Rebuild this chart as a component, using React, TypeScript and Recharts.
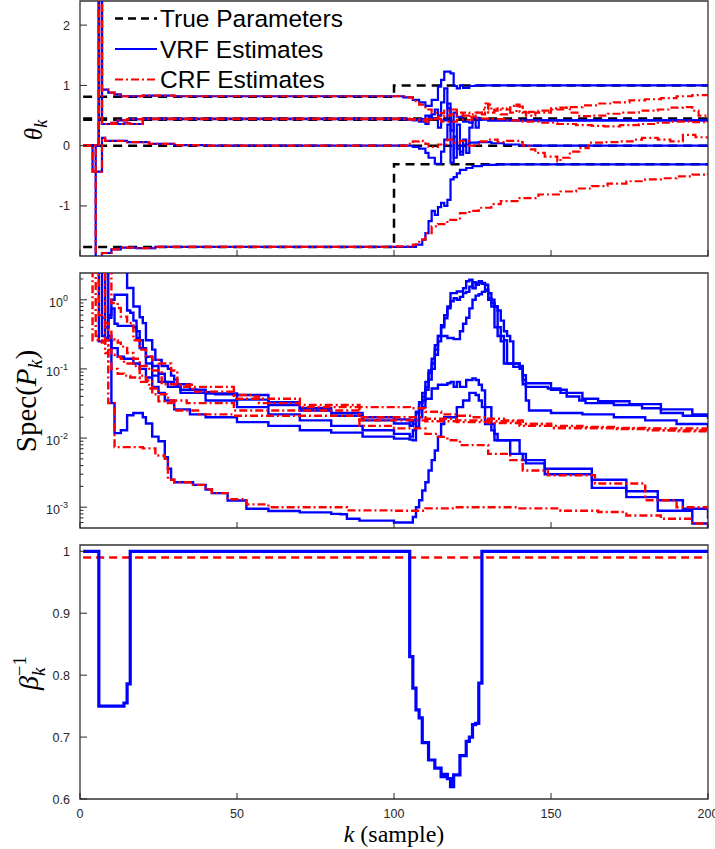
import React from 'react';
import { LineChart, Line, XAxis, YAxis, Legend, ReferenceArea } from 'recharts';

type Pt = [number, number];
type Row = { k: number; v: number };
const rows = (pts: Pt[]): Row[] => pts.map(([k, v]) => ({ k, v }));

// ---------- axis ticks ----------
const kTicks = [0, 50, 100, 150, 200];
const thetaTicks = [-1, 0, 1, 2];
const specTicks = [
  0.0006, 0.0007, 0.0008, 0.0009, 0.001, 0.002, 0.003, 0.004, 0.005, 0.006, 0.007, 0.008, 0.009,
  0.01, 0.02, 0.03, 0.04, 0.05, 0.06, 0.07, 0.08, 0.09, 0.1, 0.2, 0.3, 0.4, 0.5, 0.6, 0.7, 0.8, 0.9, 1, 2,
];
const specMajorTicks = [0.001, 0.01, 0.1, 1];
const specExponents = ['-3', '-2', '-1', '0'];
const betaTicks = [0.6, 0.7, 0.8, 0.9, 1];
const betaTickLabels = ['0.6', '0.7', '0.8', '0.9', '1'];

// ---------- panel 1: parameters ----------
const trueTheta1: Pt[] = [[1, 0.81], [100, 1.0], [200, 1.0]];
const trueTheta2: Pt[] = [[1, 0.45], [200, 0.45]];
const trueTheta3: Pt[] = [[1, 0.43], [200, 0.43]];
const trueTheta4: Pt[] = [[1, 0], [200, 0]];
const trueTheta5: Pt[] = [[1, -1.68], [100, -0.31], [200, -0.31]];

const thetaEarly1: Pt[] = [[1, 0], [6, 5], [7, 0.93], [9, 0.88], [11, 0.85], [13, 0.82], [20, 0.83], [30, 0.82], [95, 0.82]];
const thetaEarly2: Pt[] = [[1, 0], [6, 5], [7, 0.36], [10, 0.38], [12, 0.42], [15, 0.44], [20, 0.45], [95, 0.45]];
const thetaEarly3: Pt[] = [[1, 0], [6, 5], [7, 0.36], [14, 0.37], [16, 0.36], [20, 0.44], [95, 0.44]];
const thetaEarly4: Pt[] = [[1, 0], [4, -0.43], [7, 0.13], [8, 0.08], [15, 0.06], [22, 0.03], [30, 0.01], [40, 0], [95, 0]];
const thetaEarly5: Pt[] = [[1, 0], [5, -5], [7, -1.78], [10, -1.72], [13, -1.69], [18, -1.7], [24, -1.68], [95, -1.68]];

const vrfThetaLate1: Pt[] = [[103, 0.8], [106, 0.76], [108, 0.72], [110, 0.66], [112, 0.76], [114, 0.98], [115, 1.09], [116, 1.23], [118, 1.2], [119, 0.99], [120, 0.95], [121, 1.0], [122, 0.96], [124, 0.99], [126, 1.0], [200, 1.0]];
const vrfThetaLate2: Pt[] = [[104, 0.44], [106, 0.42], [108, 0.4], [110, 0.36], [111, 0.48], [112, 0.52], [113, 0.6], [114, 0.5], [115, 0.72], [116, 0.95], [117, 0.62], [118, 0.25], [119, 0.55], [120, 0.48], [122, 0.4], [124, 0.38], [125, 0.46], [127, 0.43], [130, 0.42], [200, 0.42]];
const vrfThetaLate3: Pt[] = [[104, 0.43], [108, 0.44], [110, 0.5], [112, 0.45], [114, 0.3], [115, 0.42], [117, 0.7], [118, 0.4], [119, -0.2], [120, 0.35], [121, -0.1], [122, 0.1], [123, -0.12], [124, 0.3], [125, 0.46], [126, 0.3], [127, 0.44], [130, 0.42], [200, 0.42]];
const vrfThetaLate4: Pt[] = [[106, -0.02], [108, -0.05], [110, -0.12], [111, -0.2], [113, -0.3], [115, -0.1], [116, 0.1], [117, 0.35], [118, -0.28], [119, 0.15], [120, -0.05], [121, -0.15], [122, 0.02], [124, 0.05], [127, 0.06], [131, 0.04], [135, 0.02], [140, 0], [200, 0]];
const vrfThetaLate5: Pt[] = [[105, -1.68], [107, -1.64], [109, -1.56], [110, -1.45], [111, -1.25], [112, -1.08], [113, -1.15], [114, -1.02], [115, -0.95], [116, -1.0], [117, -0.9], [118, -0.56], [119, -0.52], [120, -0.46], [121, -0.4], [123, -0.37], [125, -0.34], [128, -0.32], [133, -0.31], [200, -0.31]];

const crfThetaLate1: Pt[] = [[104, 0.8], [106, 0.74], [108, 0.68], [110, 0.6], [112, 0.55], [114, 0.54], [116, 0.58], [118, 0.6], [120, 0.55], [122, 0.5], [124, 0.52], [126, 0.55], [128, 0.6], [130, 0.68], [131, 0.58], [133, 0.62], [135, 0.6], [137, 0.66], [139, 0.65], [141, 0.55], [143, 0.56], [146, 0.58], [150, 0.6], [155, 0.64], [160, 0.67], [165, 0.7], [170, 0.72], [175, 0.75], [180, 0.77], [185, 0.79], [190, 0.82], [195, 0.84], [200, 0.86]];
const crfThetaLate2: Pt[] = [[105, 0.44], [108, 0.42], [110, 0.4], [112, 0.45], [114, 0.48], [116, 0.5], [118, 0.52], [120, 0.5], [122, 0.55], [124, 0.48], [126, 0.55], [128, 0.52], [129, 0.7], [130, 0.55], [132, 0.6], [134, 0.52], [136, 0.62], [137, 0.55], [139, 0.68], [140, 0.56], [142, 0.5], [145, 0.55], [150, 0.62], [153, 0.63], [156, 0.55], [159, 0.49], [163, 0.5], [168, 0.53], [173, 0.55], [178, 0.58], [184, 0.6], [188, 0.63], [192, 0.64], [195, 0.58], [197, 0.5], [200, 0.46]];
const crfThetaLate3: Pt[] = [[105, 0.43], [110, 0.44], [115, 0.4], [120, 0.43], [125, 0.45], [130, 0.44], [135, 0.42], [141, 0.4], [146, 0.38], [152, 0.36], [158, 0.34], [163, 0.33], [167, 0.32], [172, 0.34], [178, 0.36], [184, 0.38], [188, 0.4], [194, 0.39], [200, 0.38]];
const crfThetaLate4: Pt[] = [[104, 0.03], [106, 0.07], [108, 0.08], [110, 0.03], [111, -0.02], [114, 0.02], [117, 0.1], [119, 0.05], [121, 0.08], [124, 0.0], [127, 0.07], [130, 0.1], [133, 0.06], [136, 0.08], [140, 0.06], [141, 0], [143, -0.06], [145, -0.12], [148, -0.18], [152, -0.26], [153, -0.2], [156, -0.1], [159, -0.04], [162, 0.05], [167, 0.06], [172, 0.07], [176, 0.1], [179, 0.13], [184, 0.1], [188, 0.07], [192, 0.18], [196, 0.14], [200, 0.11]];
const crfThetaLate5: Pt[] = [[100, -1.67], [106, -1.64], [108, -1.56], [110, -1.45], [112, -1.34], [114, -1.3], [117, -1.23], [121, -1.12], [124, -1.08], [127, -1.03], [131, -0.97], [134, -0.92], [140, -0.87], [146, -0.81], [153, -0.76], [158, -0.71], [163, -0.67], [168, -0.63], [174, -0.59], [180, -0.56], [185, -0.54], [190, -0.51], [195, -0.48], [200, -0.45]];

// ---------- panel 2: Spec(P_k) ----------
const vrfSpec1: Pt[] = [[1, 10], [15, 1.48], [17, 0.8], [19, 0.56], [20, 0.46], [21, 0.26], [23, 0.19], [24, 0.135], [26, 0.11], [28, 0.1], [29, 0.08], [30, 0.07], [31, 0.055], [32, 0.05], [37, 0.049], [40, 0.046], [43, 0.043], [50, 0.042], [60, 0.033], [70, 0.027], [80, 0.023], [90, 0.02], [100, 0.0186], [105, 0.0175], [106, 0.016], [107, 0.023], [108, 0.032], [109, 0.04], [110, 0.055], [111, 0.087], [112, 0.12], [113, 0.19], [114, 0.3], [115, 0.43], [116, 0.54], [117, 0.8], [118, 1.25], [120, 1.32], [122, 1.47], [123, 1.85], [124, 1.95], [125, 1.47], [126, 1.65], [127, 1.75], [129, 1.65], [130, 1.25], [131, 1.0], [132, 0.8], [133, 0.4], [134, 0.3], [135, 0.26], [136, 0.12], [138, 0.107], [141, 0.081], [142, 0.055], [149, 0.052], [153, 0.045], [155, 0.04], [159, 0.035], [161, 0.032], [170, 0.03], [179, 0.027], [185, 0.023], [192, 0.021], [200, 0.019]];
const vrfSpec2: Pt[] = [[1, 10], [8, 0.4], [9, 0.6], [10, 1.0], [11, 1.18], [14, 1.18], [15, 0.7], [16, 0.65], [17, 0.5], [18, 0.35], [19, 0.26], [20, 0.2], [21, 0.15], [23, 0.11], [25, 0.085], [27, 0.065], [30, 0.06], [35, 0.05], [40, 0.044], [50, 0.036], [60, 0.03], [70, 0.025], [80, 0.021], [90, 0.018], [100, 0.0162], [105, 0.015], [106, 0.018], [107, 0.024], [108, 0.033], [109, 0.045], [110, 0.065], [111, 0.095], [112, 0.14], [113, 0.22], [114, 0.3], [117, 0.28], [119, 0.27], [121, 0.35], [122, 0.45], [123, 0.55], [124, 0.75], [125, 1.0], [126, 1.15], [127, 1.2], [128, 1.3], [129, 1.35], [130, 1.0], [131, 0.8], [132, 0.4], [133, 0.3], [134, 0.25], [135, 0.12], [140, 0.11], [141, 0.07], [142, 0.062], [150, 0.05], [155, 0.045], [160, 0.037], [165, 0.034], [175, 0.031], [185, 0.026], [195, 0.022], [200, 0.02]];
const vrfSpec3: Pt[] = [[1, 10], [7, 0.3], [8, 0.4], [9, 0.55], [10, 0.75], [11, 0.45], [12, 0.42], [15, 0.42], [17, 0.4], [18, 0.28], [19, 0.2], [21, 0.12], [23, 0.08], [25, 0.065], [28, 0.055], [32, 0.045], [40, 0.035], [50, 0.028], [60, 0.022], [70, 0.018], [80, 0.015], [90, 0.013], [100, 0.0115], [105, 0.0105], [106, 0.013], [107, 0.018], [108, 0.026], [109, 0.035], [110, 0.05], [111, 0.07], [112, 0.1], [113, 0.16], [114, 0.25], [115, 0.4], [116, 0.6], [117, 0.75], [118, 0.95], [119, 1.05], [120, 1.0], [121, 1.1], [122, 1.25], [123, 1.3], [124, 1.55], [125, 1.8], [126, 1.75], [127, 1.85], [128, 1.7], [129, 1.4], [130, 1.05], [131, 0.9], [132, 0.8], [133, 0.7], [134, 0.5], [135, 0.35], [136, 0.3], [137, 0.25], [138, 0.12], [140, 0.1], [141, 0.06], [142, 0.035], [143, 0.025], [150, 0.023], [160, 0.022], [170, 0.02], [180, 0.018], [190, 0.016], [200, 0.014]];
const vrfSpec4: Pt[] = [[1, 10], [6, 0.25], [8, 0.28], [9, 0.3], [10, 0.2], [12, 0.15], [14, 0.14], [17, 0.12], [19, 0.1], [21, 0.075], [23, 0.055], [25, 0.045], [27, 0.035], [30, 0.026], [35, 0.022], [40, 0.02], [50, 0.017], [60, 0.015], [70, 0.013], [80, 0.012], [90, 0.0105], [100, 0.0098], [105, 0.0095], [106, 0.0093], [107, 0.0145], [108, 0.02], [109, 0.028], [110, 0.037], [112, 0.052], [114, 0.059], [117, 0.062], [118, 0.065], [119, 0.055], [120, 0.065], [121, 0.055], [123, 0.069], [125, 0.073], [126, 0.069], [127, 0.059], [128, 0.049], [129, 0.028], [131, 0.016], [132, 0.0115], [133, 0.0093], [140, 0.0059], [141, 0.0048], [148, 0.0036], [163, 0.0025], [174, 0.0017], [184, 0.00126], [192, 0.00095], [200, 0.00068]];
const vrfSpec5: Pt[] = [[1, 10], [9, 0.26], [10, 0.032], [11, 0.0118], [13, 0.013], [15, 0.0214], [17, 0.023], [20, 0.02], [21, 0.0162], [23, 0.0105], [25, 0.009], [27, 0.0053], [28, 0.0036], [29, 0.0025], [30, 0.0023], [36, 0.0021], [40, 0.0018], [42, 0.0016], [47, 0.00125], [53, 0.00095], [60, 0.00088], [70, 0.00084], [80, 0.0008], [83, 0.00079], [85, 0.00068], [89, 0.00064], [100, 0.0006], [105, 0.0006], [106, 0.00072], [107, 0.001], [108, 0.00126], [109, 0.00174], [110, 0.0023], [111, 0.0034], [112, 0.0048], [113, 0.0066], [114, 0.0105], [115, 0.016], [116, 0.02], [119, 0.02], [120, 0.028], [122, 0.035], [124, 0.045], [126, 0.042], [127, 0.035], [128, 0.028], [129, 0.016], [131, 0.0129], [132, 0.0093], [137, 0.0059], [142, 0.0043], [148, 0.003], [163, 0.0019], [174, 0.0014], [184, 0.00089], [195, 0.00058], [200, 0.0005]];

const crfSpec1: Pt[] = [[1, 10], [9, 10], [10, 0.9], [12, 0.76], [13, 0.57], [15, 0.46], [17, 0.26], [19, 0.19], [21, 0.15], [23, 0.135], [25, 0.12], [29, 0.095], [31, 0.059], [36, 0.047], [49, 0.042], [55, 0.04], [57, 0.032], [70, 0.03], [89, 0.028], [100, 0.028], [105, 0.027], [110, 0.024], [115, 0.022], [120, 0.021], [125, 0.02], [130, 0.019], [135, 0.018], [141, 0.016], [150, 0.015], [160, 0.0145], [170, 0.014], [180, 0.013], [190, 0.0125], [200, 0.0117]];
const crfSpec2: Pt[] = [[1, 10], [6, 0.6], [7, 0.55], [8, 0.46], [9, 0.37], [10, 0.28], [11, 0.26], [12, 0.24], [13, 0.21], [15, 0.17], [17, 0.14], [19, 0.11], [22, 0.095], [26, 0.06], [32, 0.055], [49, 0.037], [70, 0.028], [89, 0.02], [100, 0.02], [110, 0.019], [120, 0.018], [130, 0.0175], [140, 0.016], [150, 0.014], [170, 0.0135], [185, 0.013], [200, 0.012]];
const crfSpec3: Pt[] = [[1, 10], [4, 0.26], [7, 0.25], [8, 0.22], [9, 0.19], [10, 0.16], [11, 0.15], [13, 0.14], [14, 0.12], [17, 0.11], [19, 0.08], [21, 0.068], [23, 0.043], [28, 0.035], [34, 0.032], [49, 0.025], [89, 0.018], [100, 0.018], [110, 0.0175], [120, 0.017], [130, 0.0165], [140, 0.015], [150, 0.014], [170, 0.0138], [200, 0.013]];
const crfSpec4: Pt[] = [[1, 10], [5, 0.3], [6, 0.26], [7, 0.24], [8, 0.17], [9, 0.12], [10, 0.1], [12, 0.085], [14, 0.08], [16, 0.075], [19, 0.065], [22, 0.052], [25, 0.034], [28, 0.032], [30, 0.025], [38, 0.022], [49, 0.021], [89, 0.015], [100, 0.0138], [110, 0.0115], [114, 0.0104], [117, 0.0093], [121, 0.0079], [130, 0.0059], [137, 0.0048], [141, 0.0034], [149, 0.0029], [164, 0.0022], [180, 0.00126], [190, 0.001], [200, 0.00076]];
const crfSpec5: Pt[] = [[1, 10], [8, 0.26], [9, 0.032], [11, 0.0074], [20, 0.0071], [24, 0.0056], [27, 0.005], [28, 0.0025], [30, 0.0023], [36, 0.0021], [40, 0.0018], [42, 0.0016], [47, 0.0013], [53, 0.0011], [60, 0.001], [83, 0.001], [85, 0.0009], [100, 0.00089], [110, 0.00096], [120, 0.001], [130, 0.001], [140, 0.00096], [153, 0.00089], [165, 0.00085], [174, 0.00076], [185, 0.00068], [195, 0.00058], [200, 0.00054]];

// ---------- panel 3: forgetting factor ----------
const vrfBeta: Pt[] = [[1, 1], [6, 0.75], [14, 0.755], [15, 0.786], [16, 1], [105, 0.83], [106, 0.779], [107, 0.744], [108, 0.731], [109, 0.691], [111, 0.663], [113, 0.65], [115, 0.636], [116, 0.64], [117, 0.633], [118, 0.62], [119, 0.639], [121, 0.67], [123, 0.693], [124, 0.7], [125, 0.72], [126, 0.722], [127, 0.787], [128, 1], [200, 1]];
const crfBeta: Pt[] = [[1, 0.99], [200, 0.99]];

const legendItems = [
  { label: 'True Parameters', color: '#000000', dash: '8 5', width: 2.5 },
  { label: 'VRF Estimates', color: '#0000ff', dash: undefined, width: 2.2 },
  { label: 'CRF Estimates', color: '#ff0000', dash: '8 3 2 3', width: 2.2 },
];

// ---------- styling ----------
const W = 715;
const PL = 80;
const BLUE = '#0000ff';
const RED = '#ff0000';
const CRF_DASH = '8 3 2 3';
const TRUE_DASH = '9 6';
const AXIS = '#262626';
const SANS = '"Liberation Sans", Arial, Helvetica, sans-serif';
const SERIF = '"Liberation Serif", "DejaVu Serif", serif';

const yTickLinear = (labels: (v: number) => string) => (props: any) => {
  const { y, payload } = props;
  return (
    <g>
      <line x1={PL} x2={PL + 7} y1={y} y2={y} stroke={AXIS} strokeWidth={1} />
      <text x={70} y={y} dy={4.5} textAnchor="end" fontFamily={SANS} fontSize={12.5} fill={AXIS}>
        {labels(payload.value)}
      </text>
    </g>
  );
};

const specTick = (props: any) => {
  const { y, payload } = props;
  const v = payload.value as number;
  const idx = specMajorTicks.findIndex((t) => Math.abs(t - v) < t * 1e-6);
  const major = idx >= 0;
  return (
    <g>
      <line x1={PL} x2={PL + (major ? 7 : 3.5)} y1={y} y2={y} stroke={AXIS} strokeWidth={1} />
      {major && (
        <text x={68} y={y} dy={7} textAnchor="end" fontFamily={SANS} fontSize={12.5} fill={AXIS}>
          <tspan>10</tspan>
          <tspan dy={-6} fontSize={9}>{specExponents[idx]}</tspan>
        </text>
      )}
    </g>
  );
};

const xTick = (pb: number, showLabel: boolean) => (props: any) => {
  const { x, payload } = props;
  return (
    <g>
      <line x1={x} x2={x} y1={pb} y2={pb - 6} stroke={AXIS} strokeWidth={1} />
      {showLabel && (
        <text x={x} y={pb + 19} textAnchor="middle" fontFamily={SANS} fontSize={12.5} fill={AXIS}>
          {payload.value}
        </text>
      )}
    </g>
  );
};

const thetaLabel = () => (
  <text transform="rotate(-90 42 130)" x={42} y={130} textAnchor="middle" fontFamily={SERIF} fontSize={25} fill="#000">
    <tspan fontStyle="italic">θ</tspan>
    <tspan fontStyle="italic" fontSize={18} dy={5}>k</tspan>
  </text>
);

const specLabel = () => (
  <text transform="rotate(-90 36 136)" x={36} y={136} textAnchor="middle" fontFamily={SERIF} fontSize={29} fill="#000">
    <tspan>Spec(</tspan>
    <tspan fontStyle="italic">P</tspan>
    <tspan fontStyle="italic" fontSize={20} dy={6}>k</tspan>
    <tspan dy={-6}>)</tspan>
  </text>
);

const betaLabel = () => (
  <text transform="rotate(-90 38 136)" x={38} y={136} textAnchor="middle" fontFamily={SERIF} fontSize={28} fill="#000">
    <tspan fontStyle="italic">β</tspan>
    <tspan fontSize={19} dy={-12}>−1</tspan>
    <tspan fontStyle="italic" fontSize={19} dx={-20} dy={19}>k</tspan>
  </text>
);

const xLabel = () => (
  <text x={394} y={305} textAnchor="middle" fontFamily={SERIF} fontSize={24} fill="#000">
    <tspan fontStyle="italic">k</tspan>
    <tspan> (sample)</tspan>
  </text>
);

const renderLegend = () => (
  <svg width={260} height={92} style={{ display: 'block' }}>
    {legendItems.map((it, i) => {
      const cy = 18.5 + i * 30.5;
      return (
        <g key={it.label}>
          <line x1={7} x2={49} y1={cy} y2={cy} stroke={it.color} strokeWidth={it.width} strokeDasharray={it.dash} />
          <text x={52} y={cy + 8.5} fontFamily={SANS} fontSize={24.5} fill="#000">{it.label}</text>
        </g>
      );
    })}
  </svg>
);

const lineProps = {
  type: 'stepAfter' as const,
  dataKey: 'v',
  dot: false,
  activeDot: false,
  isAnimationActive: false,
  legendType: 'none' as const,
};

const Box = ({ y1, y2 }: { y1: number; y2: number }) => (
  <ReferenceArea x1={0} x2={200} y1={y1} y2={y2} fill="none" stroke="#333" strokeWidth={1.3} ifOverflow="visible" />
);

const THETA_DOMAIN: [number, number] = [-1.83, 2.4];
const SPEC_DOMAIN: [number, number] = [0.0005, 2.44];
const BETA_DOMAIN: [number, number] = [0.6, 1.0102];

export default function App() {
  const trueSets = [trueTheta1, trueTheta2, trueTheta3, trueTheta4, trueTheta5];
  const vrfTheta = [
    [...thetaEarly1, ...vrfThetaLate1],
    [...thetaEarly2, ...vrfThetaLate2],
    [...thetaEarly3, ...vrfThetaLate3],
    [...thetaEarly4, ...vrfThetaLate4],
    [...thetaEarly5, ...vrfThetaLate5],
  ];
  const crfTheta = [
    [...thetaEarly1, ...crfThetaLate1],
    [...thetaEarly2, ...crfThetaLate2],
    [...thetaEarly3, ...crfThetaLate3],
    [...thetaEarly4, ...crfThetaLate4],
    [...thetaEarly5, ...crfThetaLate5],
  ];
  const vrfSpec = [vrfSpec1, vrfSpec2, vrfSpec3, vrfSpec4, vrfSpec5];
  const crfSpec = [crfSpec1, crfSpec2, crfSpec3, crfSpec4, crfSpec5];

  return (
    <div style={{ position: 'absolute', left: 0, top: 0, width: W, height: 849, background: '#fff' }}>
      {/* Panel 1 */}
      <div style={{ position: 'absolute', left: 0, top: 0 }}>
        <LineChart width={W} height={268} margin={{ top: 1, right: 7, bottom: 0, left: 0 }}>
          <XAxis dataKey="k" type="number" domain={[0, 200]} ticks={kTicks} allowDataOverflow height={12}
            axisLine={false} tickLine={false} tick={xTick(256, false)} interval={0} />
          <YAxis type="number" domain={THETA_DOMAIN} ticks={thetaTicks} allowDataOverflow width={80}
            axisLine={false} tickLine={false} tick={yTickLinear((v) => String(v))} interval={0}
            label={{ content: thetaLabel }} />
          {trueSets.map((d, i) => (
            <Line key={`t${i}`} {...lineProps} data={rows(d)} stroke="#000" strokeWidth={2.5} strokeDasharray={TRUE_DASH} />
          ))}
          {vrfTheta.map((d, i) => (
            <Line key={`v${i}`} {...lineProps} data={rows(d)} stroke={BLUE} strokeWidth={2.2} />
          ))}
          {crfTheta.map((d, i) => (
            <Line key={`c${i}`} {...lineProps} data={rows(d)} stroke={RED} strokeWidth={2.2} strokeDasharray={CRF_DASH} />
          ))}
          <Box y1={THETA_DOMAIN[0]} y2={THETA_DOMAIN[1]} />
          <Legend layout="horizontal" verticalAlign="middle" align="center" content={renderLegend}
            wrapperStyle={{ left: 108, top: 0, width: 260, height: 92 }} />
        </LineChart>
      </div>

      {/* Panel 2 */}
      <div style={{ position: 'absolute', left: 0, top: 265 }}>
        <LineChart width={W} height={275} margin={{ top: 8, right: 7, bottom: 0, left: 0 }}>
          <XAxis dataKey="k" type="number" domain={[0, 200]} ticks={kTicks} allowDataOverflow height={12}
            axisLine={false} tickLine={false} tick={xTick(263, false)} interval={0} />
          <YAxis type="number" scale="log" domain={SPEC_DOMAIN} ticks={specTicks} allowDataOverflow width={80}
            axisLine={false} tickLine={false} tick={specTick} interval={0}
            label={{ content: specLabel }} />
          {vrfSpec.map((d, i) => (
            <Line key={`v${i}`} {...lineProps} data={rows(d)} stroke={BLUE} strokeWidth={2.4} />
          ))}
          {crfSpec.map((d, i) => (
            <Line key={`c${i}`} {...lineProps} data={rows(d)} stroke={RED} strokeWidth={2.4} strokeDasharray={CRF_DASH} />
          ))}
          <Box y1={SPEC_DOMAIN[0]} y2={SPEC_DOMAIN[1]} />
        </LineChart>
      </div>

      {/* Panel 3 */}
      <div style={{ position: 'absolute', left: 0, top: 537 }}>
        <LineChart width={W} height={312} margin={{ top: 8, right: 7, bottom: 0, left: 0 }}>
          <XAxis dataKey="k" type="number" domain={[0, 200]} ticks={kTicks} allowDataOverflow height={50}
            axisLine={false} tickLine={false} tick={xTick(262, true)} interval={0}
            label={{ content: xLabel }} />
          <YAxis type="number" domain={BETA_DOMAIN} ticks={betaTicks} allowDataOverflow width={80}
            axisLine={false} tickLine={false} interval={0}
            tick={yTickLinear((v) => betaTickLabels[betaTicks.findIndex((t) => Math.abs(t - v) < 1e-9)] ?? String(v))}
            label={{ content: betaLabel }} />
          <Line {...lineProps} data={rows(crfBeta)} stroke={RED} strokeWidth={2.5} strokeDasharray="8 5" />
          <Line {...lineProps} data={rows(vrfBeta)} stroke={BLUE} strokeWidth={3.2} />
          <Box y1={BETA_DOMAIN[0]} y2={BETA_DOMAIN[1]} />
        </LineChart>
      </div>
    </div>
  );
}
